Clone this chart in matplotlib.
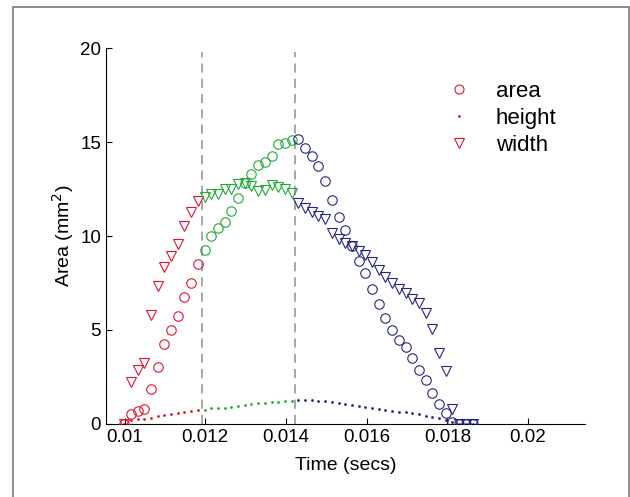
import matplotlib
matplotlib.use('Agg')
import matplotlib.pyplot as plt
from matplotlib.patches import Rectangle

plt.rcParams['font.family'] = ['Liberation Sans', 'DejaVu Sans']

# frame times (s)
time = [0.009990, 0.010156, 0.010322, 0.010488, 0.010654, 0.010820, 0.010986,
        0.011152, 0.011318, 0.011484, 0.011650, 0.011816, 0.011982, 0.012148,
        0.012314, 0.012480, 0.012646, 0.012812, 0.012978, 0.013144, 0.013310,
        0.013476, 0.013642, 0.013808, 0.013974, 0.014140, 0.014306, 0.014472,
        0.014638, 0.014804, 0.014970, 0.015136, 0.015302, 0.015468, 0.015634,
        0.015800, 0.015966, 0.016132, 0.016298, 0.016464, 0.016630, 0.016796,
        0.016962, 0.017128, 0.017294, 0.017460, 0.017626, 0.017792, 0.017958,
        0.018124, 0.018290, 0.018456, 0.018622]

area = [0, 0.53, 0.71, 0.78, 1.86, 3.02, 4.28, 4.99, 5.76, 6.73, 7.48, 8.53,
        9.24, 10.0, 10.45, 10.73, 11.35, 12.03, 12.8, 13.3, 13.8, 13.95, 14.27,
        14.87, 14.95, 15.12,
        15.15, 14.69, 14.27, 13.73, 12.9, 11.91, 11.0, 10.32, 9.47, 8.68, 8.02,
        7.17, 6.4, 5.66, 5.02, 4.45, 4.08, 3.51, 2.86, 2.34, 1.65, 1.08, 0.6,
        0.1, 0, 0, 0]

height = [0, 0.21, 0.25, 0.28, 0.34, 0.41, 0.48, 0.53, 0.58, 0.64, 0.69, 0.74,
          0.76, 0.83, 0.87, 0.87, 0.92, 0.97, 1.01, 1.06, 1.12, 1.12, 1.15,
          1.19, 1.22, 1.24,
          1.29, 1.28, 1.26, 1.24, 1.2, 1.17, 1.12, 1.06, 1.01, 0.97, 0.92,
          0.85, 0.8, 0.76, 0.71, 0.66, 0.62, 0.57, 0.51, 0.45, 0.38, 0.31,
          0.23, 0.1, 0, 0, 0]

width = [0, 2.25, 2.87, 3.25, 5.8, 7.36, 8.35, 8.95, 9.57, 10.54, 11.28, 11.86,
         12.1, 12.23, 12.23, 12.48, 12.48, 12.75, 12.8, 12.66, 12.39, 12.47,
         12.7, 12.6, 12.5, 12.27,
         11.77, 11.51, 11.29, 11.06, 10.89, 10.18, 9.82, 9.64, 9.47, 9.2, 8.99,
         8.63, 8.19, 7.84, 7.52, 7.17, 6.95, 6.63, 6.42, 5.92, 5.05, 3.79, 2.8,
         0.8, 0, 0, 0]

# phase boundaries: first frame index of each phase, and the marker times
phase_start = [0, 12, 26, 53]
phase_colors = ['#e3132c', '#22aa36', '#26267e']
boundaries = [0.01191, 0.01423]

fig = plt.figure(figsize=(6.3, 4.97), dpi=100)
ax = fig.add_axes([0.1683, 0.1469, 0.7603, 0.7565])

# grey frame round the figure
fig.patches.append(Rectangle((13 / 630, -0.05), (629 - 13) / 630, 1.05 - 7 / 497,
                             transform=fig.transFigure, fill=False,
                             edgecolor='#7a7a7a', linewidth=1.2))

for b in boundaries:
    ax.plot([b, b], [0, 19.8], color='#8f8f8f', linestyle=(0, (6, 4)),
            linewidth=1.1, zorder=1)

for k, col in enumerate(phase_colors):
    s, e = phase_start[k], phase_start[k + 1]
    t = time[s:e]
    ax.plot(t, height[s:e], linestyle='none', marker='o', markersize=2.0,
            markeredgewidth=0, color=col, zorder=2)
    ax.plot(t, area[s:e], linestyle='none', marker='o', markersize=6.8,
            markerfacecolor='none', markeredgecolor=col, markeredgewidth=0.8,
            zorder=3)
    ax.plot(t, width[s:e], linestyle='none', marker='v', markersize=7.5,
            markerfacecolor='none', markeredgecolor=col, markeredgewidth=0.8,
            zorder=3)

# legend handles (first phase colour)
h_area, = ax.plot([], [], linestyle='none', marker='o', markersize=6.5,
                  markerfacecolor='none', markeredgecolor=phase_colors[0],
                  markeredgewidth=0.8)
h_height, = ax.plot([], [], linestyle='none', marker='o', markersize=2.0,
                    markeredgewidth=0, color=phase_colors[0])
h_width, = ax.plot([], [], linestyle='none', marker='v', markersize=7.5,
                   markerfacecolor='none', markeredgecolor=phase_colors[0],
                   markeredgewidth=0.8)
ax.legend([h_area, h_height, h_width], ['area', 'height', 'width'],
          loc='upper left', bbox_to_anchor=(0.672, 0.965), frameon=False,
          fontsize=16, handlelength=1.0, handletextpad=1.15, labelspacing=0.27)

ax.set_xlim(0.00954, 0.02141)
ax.set_ylim(0, 20)
ax.set_xticks([0.01, 0.012, 0.014, 0.016, 0.018, 0.02])
ax.set_xticklabels(['0.01', '0.012', '0.014', '0.016', '0.018', '0.02'])
ax.set_yticks([0, 5, 10, 15, 20])
ax.tick_params(direction='in', length=4, width=0.8, labelsize=13.5)
ax.spines['top'].set_visible(False)
ax.spines['right'].set_visible(False)
ax.set_xlabel('Time (secs)', fontsize=14, labelpad=8)
ax.set_ylabel('Area (mm$^2$)', fontsize=14, labelpad=3)

fig.savefig('out.png', dpi=100)
